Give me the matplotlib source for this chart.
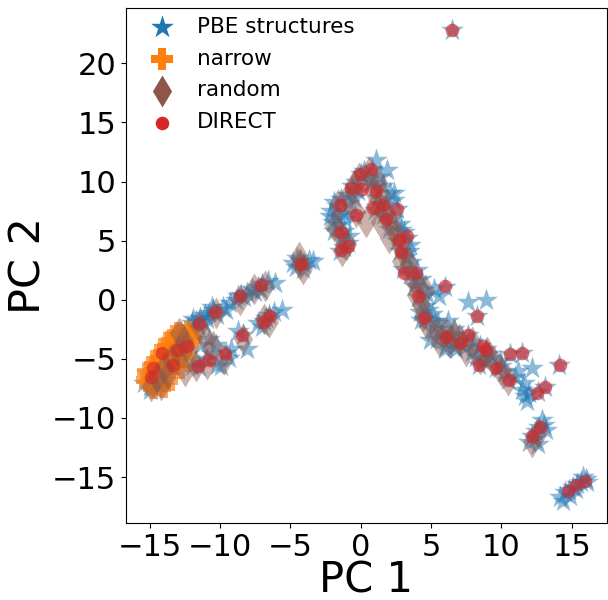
import numpy as np
import matplotlib
matplotlib.use("Agg")
import matplotlib.pyplot as plt

# ----------------------------------------
# datos (PC 1, PC 2)
# ----------------------------------------
pbe_x = [
    # banda inferior izquierda
    -15.4, -15.0, -14.6, -15.2, -14.8, -14.3, -13.8, -13.3, -12.8, -14.0, -13.5, -13.0, -12.6, -15.0, -12.2,
    # rama superior
    -12.3, -12.0, -11.7, -11.4, -11.1, -10.8, -10.5, -10.2, -11.5, -10.9, -9.8, -9.3, -8.9, -8.5, -8.1,
    -7.7, -7.3, -7.0, -6.6, -8.7, -7.5, -6.1, -11.9, -11.2, -10.6, -9.6, -8.3, -7.1,
    # rama inferior
    -12.3, -11.8, -11.5, -11.0, -10.6, -10.2, -9.9, -9.6, -9.2, -8.4, -8.1, -8.7, -7.3, -6.9, -6.5,
    -6.2, -5.6, -7.0, -11.4, -10.8, -10.3, -12.0, -9.4, -6.7,
    # grupo (-4, 3)
    -4.6, -4.3, -4.0, -3.7, -4.5, -4.1, -3.4, -4.8,
    # brazo izquierdo del pico
    -1.5, -1.2, -0.9, -1.4, -1.9, -2.0, -1.6, -1.2, -2.1, -1.7, -1.4, -1.9, -1.0, -0.6, -0.3, 0.0,
    -0.8, -0.4, -1.2, -0.2, -0.8, -1.7, -2.2, -1.1, -0.5,
    # brazo derecho
    0.8, 1.1, 1.9, 1.4, 0.5, 1.0, 1.6, 2.1, 2.4, 1.2, 1.8, 2.6, 1.0, 1.6, 2.2, 2.8, 2.0, 3.1, 3.3,
    2.6, 3.5, 2.8, 3.2, 3.6, 3.0, 3.5, 4.0, 4.3, 3.8, 4.4, 4.1, 4.7, 5.2, 6.0, 5.6, 4.6, 4.2, 4.6,
    5.1, 5.5, 5.0, 5.8, 6.1, 6.6, 6.2, 7.0, 6.8, 7.6, 7.4, 8.0, 8.5, 8.9, 8.2, 8.4, 8.9, 9.3, 9.6,
    9.9, 10.2, 10.6, 10.5, 11.0, 11.5, 11.6, 11.5, 12.0, 12.6, 13.1, 12.2, 14.1, 11.8, 11.7, 7.6,
    8.9, 8.3, 6.1, 5.4, 4.3, 4.9, 6.0, 2.4, 0.2, 0.7, 1.4, 2.9, 3.9, 5.3, 6.4, 7.2, 7.9, 9.1, 10.0,
    3.4, 4.8, 6.6, 8.7, 11.2,
    # grupo (12.5, -11)
    12.0, 12.2, 12.5, 12.7, 13.0, 12.4, 12.9, 13.2, 12.6,
    # grupo (15, -16)
    14.2, 14.5, 14.8, 15.1, 15.4, 15.7, 16.0, 14.4, 14.9, 15.3, 16.1, 15.8,
    # punto aislado
    6.5,
]
pbe_y = [
    -7.0, -7.3, -6.9, -6.2, -5.5, -4.9, -4.3, -3.6, -3.0, -6.2, -5.6, -5.0, -4.3, -7.6, -2.7,
    -2.4, -2.0, -1.8, -1.5, -1.3, -1.1, -0.9, -1.3, -2.3, -1.6, -0.6, -0.3, 0.0, 0.4, 0.6,
    0.9, 1.1, 1.3, 1.6, 0.3, 0.7, 1.4, -1.6, -1.9, -0.6, -0.9, 0.2, 0.8,
    -4.6, -5.2, -5.7, -5.0, -4.6, -5.5, -5.6, -4.5, -4.2, -3.0, -4.2, -2.6, -2.0, -1.8, -1.3,
    -1.0, -0.9, -2.3, -3.8, -3.3, -3.8, -5.6, -4.9, -1.5,
    2.8, 3.3, 3.0, 3.4, 3.5, 2.6, 3.3, 3.1,
    4.1, 4.5, 4.8, 5.3, 5.8, 6.6, 6.3, 5.8, 7.5, 7.9, 8.5, 8.3, 8.9, 9.6, 10.0, 10.6,
    8.2, 7.2, 7.3, 9.2, 5.4, 7.0, 7.1, 6.8, 8.6,
    11.1, 11.8, 11.0, 10.4, 10.2, 9.5, 9.6, 9.0, 8.4, 8.6, 8.0, 7.7, 7.6, 7.2, 6.8, 6.4, 6.0, 5.7, 5.2,
    5.0, 4.6, 4.1, 3.6, 3.2, 2.6, 2.2, 2.5, 1.8, 1.2, 0.8, 0.2, 0.5, 0.9, 1.1, 0.3, -0.5, -1.0, -1.6,
    -1.2, -2.0, -2.5, -2.8, -3.2, -2.5, -1.8, -3.6, -4.2, -3.0, -4.0, -3.6, -3.9, -4.2, -4.8, -5.5, -5.0, -4.9, -5.8,
    -5.2, -6.1, -4.6, -6.8, -6.5, -4.5, -7.0, -7.6, -7.9, -7.8, -7.4, -5.8, -5.5, -8.6, -8.1, -0.2,
    0.0, -1.4, -3.9, -3.3, -1.7, -3.4, -4.2, 9.0, 10.9, 9.9, 8.1, 5.9, 1.6, -1.8, -3.0, -3.2, -4.4, -4.6, -5.6,
    4.1, -0.9, -3.9, -5.2, -6.0,
    -12.0, -11.5, -11.1, -10.8, -10.6, -11.8, -10.2, -11.0, -12.2,
    -16.7, -16.3, -16.1, -15.8, -15.6, -15.4, -15.2, -17.0, -16.6, -16.0, -15.4, -15.0,
    22.8,
]

narrow_x = [
    -15.0, -14.7, -14.4, -14.9, -14.6, -14.2, -14.6, -14.3, -13.9, -14.4, -14.0, -13.6, -14.1, -13.7,
    -13.3, -13.8, -13.4, -13.0, -13.5, -13.1, -12.7, -13.1, -12.7, -12.3, -12.7, -12.4, -12.1, -12.3,
    -15.2, -14.0, -14.8, -14.5, -14.2, -13.9, -13.6, -13.3, -13.0, -12.8, -12.5, -12.2, -15.1, -13.8,
]
narrow_y = [
    -7.1, -7.5, -7.2, -6.5, -6.8, -6.7, -6.0, -6.2, -6.4, -5.5, -5.7, -5.9, -5.0, -5.2,
    -5.4, -4.5, -4.7, -4.9, -4.0, -4.2, -4.4, -3.5, -3.7, -3.9, -3.0, -3.2, -3.4, -2.7,
    -6.8, -7.4, -5.7, -5.1, -4.6, -4.1, -3.6, -3.1, -2.8, -5.8, -4.8, -3.1, -6.1, -6.9,
]

random_x = [
    -14.9, -14.5, -14.0, -13.5, -13.0, -12.6, -14.2, -12.9, -13.7, -12.4,
    -11.5, -10.3, -8.6, -7.6, -6.8,
    -11.0, -10.5, -10.9, -9.7, -8.4, -6.9, -6.5, -11.7, -12.5,
    -4.3, -4.1, -4.4,
    -1.3, -1.0, -1.5, -1.9, -1.0, -0.5, -0.1, -1.6, -0.3, 0.4,
    0.6, 1.2, 0.9, 1.5, 1.0, 1.6, 2.0, 1.4, 2.2, 2.5, 2.0, 2.8, 3.0, 3.4, 2.9, 3.6, 4.0, 3.9, 4.3,
    4.4, 4.8, 5.4, 5.6, 6.1, 6.3, 6.6, 7.0, 7.5, 7.9, 8.5, 9.0, 9.5, 10.0, 10.5, 4.6,
    12.2, 12.6,
]
random_y = [
    -7.3, -6.5, -5.8, -5.0, -4.3, -3.5, -7.2, -2.8, -6.3, -4.0,
    -2.2, -1.1, 0.0, 0.9, 1.2,
    -3.3, -3.9, -5.4, -5.0, -3.3, -1.6, -1.9, -5.6, -6.0,
    3.0, 2.6, 3.6,
    4.1, 4.7, 5.6, 6.2, 8.6, 9.7, 10.3, 8.0, 7.4, 6.6,
    10.8, 10.0, 9.2, 8.8, 8.0, 7.5, 7.0, 6.6, 6.2, 5.6, 5.2, 4.8, 4.0, 3.0, 3.3, 2.0, 1.3, 0.4, -0.4,
    -1.4, -2.2, -2.6, -3.5, -2.7, -3.6, -3.0, -3.3, -4.3, -3.6, -5.0, -4.4, -5.3, -6.0, -6.8, 0.8,
    -12.0, -11.3,
]

direct_x = [
    -7.06, -8.6, -10.33, -11.5, -6.47, -6.94, -8.43, -9.67, -10.8, -11.56, -12.34, -13.03, -14.1,
    -13.34, -14.8, -14.88, -4.26,
    0.76, -0.02, -0.66, 0.12, 1.07, -1.44, 1.59, 0.88, 2.58, -0.36, 1.83, -1.37, 3.29, 2.72, -0.9,
    -1.42, 2.84, 3.06, 3.91, 5.97, 4.07, 4.5, 8.29, 6.09, 7.04, 7.63, 8.69, 8.93, 8.41, 9.64, 10.59,
    11.49, 10.54, 12.56, 13.08, 14.14, 12.72, 12.2, 14.73, 15.33, 15.92, 6.47,
]
direct_y = [
    1.27, 0.34, -1.07, -2.03, -1.36, -1.84, -2.97, -4.58, -5.1, -5.6, -3.9, -4.24, -4.46,
    -5.5, -5.8, -6.55, 3.05,
    11.1, 10.65, 9.46, 9.38, 9.18, 7.99, 8.05, 7.77, 7.68, 7.15, 6.84, 5.71, 5.42, 5.08, 4.52,
    4.24, 4.01, 2.26, 2.26, 1.13, 0.28, -1.55, -1.41, -3.16, -3.62, -2.97, -3.95, -4.24, -5.51, -5.79, -4.58,
    -4.46, -6.78, -7.85, -7.4, -5.51, -10.79, -11.53, -16.19, -15.68, -15.31, 22.8,
]

# ----------------------------------------
# grafico
# ----------------------------------------
fig = plt.figure(figsize=(6.08, 6.0), dpi=100)
ax = fig.add_axes([0.207, 0.128, 0.791, 0.859])

ax.scatter(pbe_x, pbe_y, marker="*", s=300, color="tab:blue", alpha=0.5,
           linewidths=0, label="PBE structures")
ax.scatter(narrow_x, narrow_y, marker="P", s=260, color="tab:orange", alpha=0.7,
           linewidths=0, label="narrow")
ax.scatter(random_x, random_y, marker="d", s=265, color="tab:brown", alpha=0.45,
           linewidths=0, label="random")
ax.scatter(direct_x, direct_y, marker="o", s=95, color="tab:red", alpha=0.65,
           linewidths=0, label="DIRECT")

ax.set_xlim(-16.7, 17.5)
ax.set_ylim(-18.9, 24.7)
ax.set_xticks([-15, -10, -5, 0, 5, 10, 15])
ax.set_yticks([-15, -10, -5, 0, 5, 10, 15, 20])
ax.tick_params(labelsize=22)
ax.set_xlabel("PC 1", fontsize=30, labelpad=-2)
ax.set_ylabel("PC 2", fontsize=31, labelpad=2)

leg = ax.legend(loc="upper left", bbox_to_anchor=(0.0, 1.012), frameon=False,
                fontsize=15.5, labelspacing=0.55, handletextpad=0.6, borderaxespad=0.3)
for h in leg.legend_handles:
    h.set_alpha(1)

fig.savefig("out.png", dpi=100)
